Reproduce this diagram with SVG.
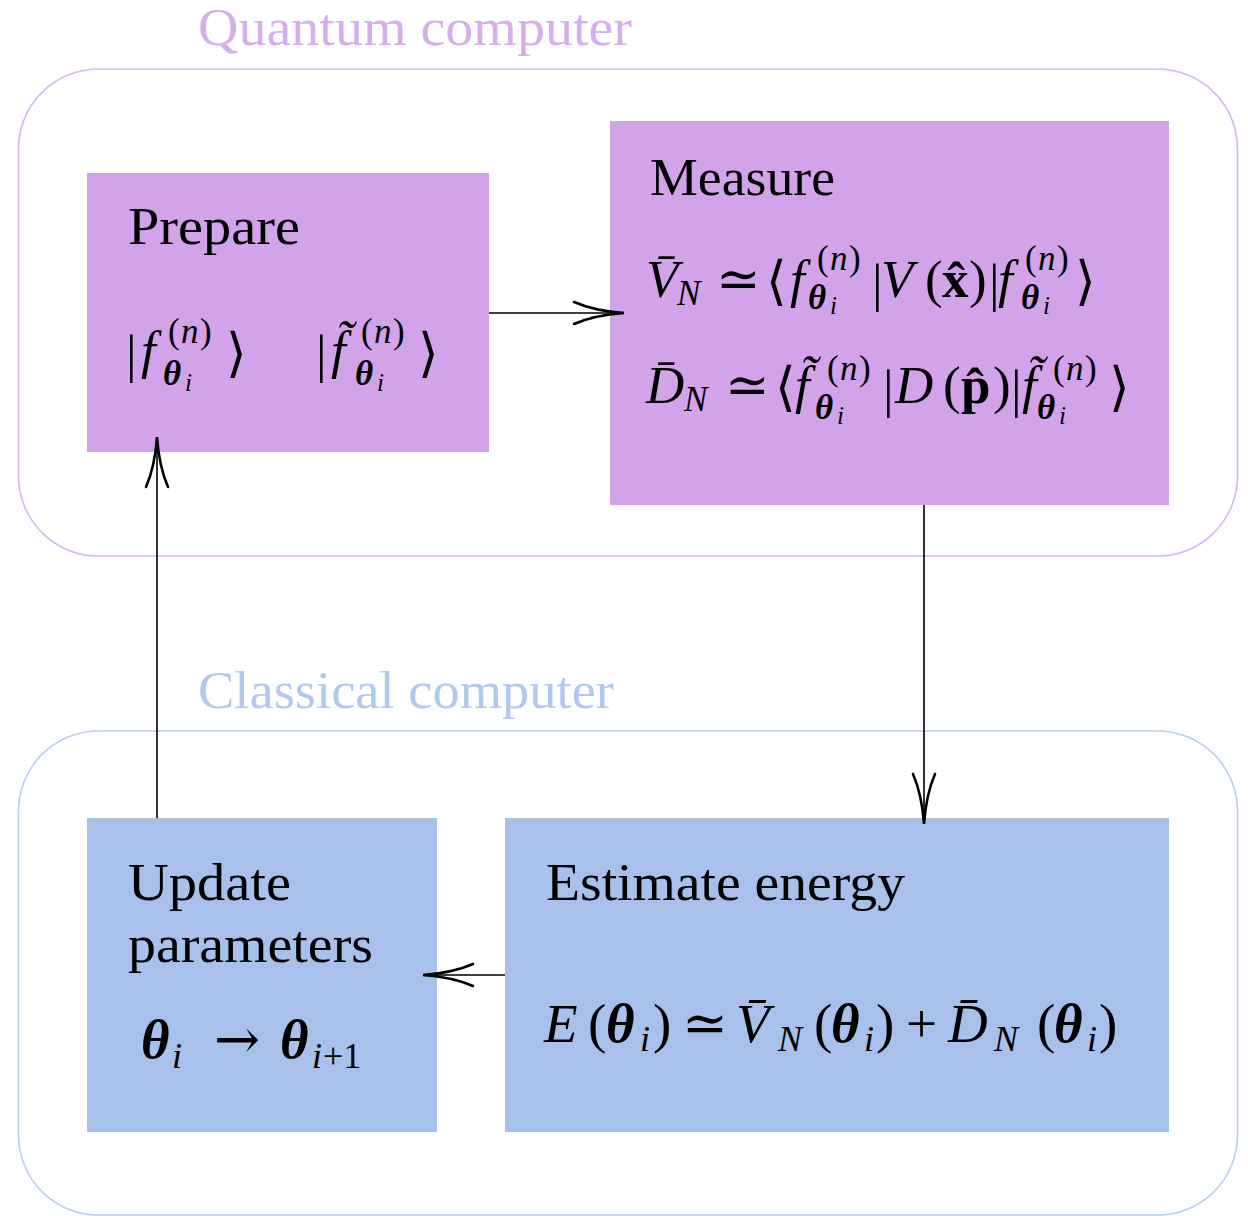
<svg xmlns="http://www.w3.org/2000/svg" width="1248" height="1216" viewBox="0 0 1248 1216">
<style>
.t{font-family:"Liberation Serif","DejaVu Serif",serif;fill:#000}
.lbl{font-size:52px}
.m{font-family:"Liberation Serif","DejaVu Serif",serif;font-size:53px;font-style:italic}
.u{font-style:normal}
.sym{font-family:"DejaVu Serif","Liberation Serif",serif;font-style:normal}
.sup{font-size:35px}
.th{font-style:italic;font-weight:bold}
.ii{font-style:italic;font-size:25px}
.bd{font-weight:bold;font-style:normal}
.conn{stroke:#000;stroke-width:1.6;fill:none}
</style>
<defs>
<marker id="ah" markerUnits="userSpaceOnUse" viewBox="-54 -14 56 28" refX="0" refY="0" markerWidth="56" markerHeight="28" orient="auto" overflow="visible">
<path d="M -50,-11 C -34,-4 -14,-1 0,0 C -14,1 -34,4 -50,11" fill="none" stroke="#000" stroke-width="2.6" stroke-linecap="round"/>
</marker>
</defs>

<g id="quantum-computer">
<rect x="18.5" y="69" width="1219" height="487" rx="80" ry="80" fill="none" stroke="#D9B4F0" stroke-width="1.6"/>
<text class="t lbl" x="198" y="45" style="fill:#D6AEEC" textLength="434" lengthAdjust="spacingAndGlyphs">Quantum computer</text>
</g>

<g id="classical-computer">
<rect x="18.5" y="731" width="1219" height="484" rx="80" ry="80" fill="none" stroke="#B7CEF0" stroke-width="1.6"/>
<text class="t lbl" x="198" y="708" style="fill:#B2C9EF" textLength="416" lengthAdjust="spacingAndGlyphs">Classical computer</text>
</g>

<g id="prepare">
<rect x="87" y="173" width="402" height="279" fill="#D2A3E8"/>
<text class="t lbl" x="128" y="244" textLength="172" lengthAdjust="spacingAndGlyphs">Prepare</text>
<text class="m">
<tspan class="u" x="126" y="372">|</tspan><tspan x="141" y="368">f</tspan><tspan class="u sup" x="168" y="343">(</tspan><tspan class="sup" x="181" y="343">n</tspan><tspan class="u sup" x="200" y="343">)</tspan><tspan class="th sup" x="163" y="385">θ</tspan><tspan class="ii" x="185" y="391">i</tspan><tspan class="u" x="226" y="371">⟩</tspan>
</text>
<text class="m">
<tspan class="u" x="316" y="372">|</tspan><tspan x="331" y="368">f̃</tspan><tspan class="u sup" x="361" y="343">(</tspan><tspan class="sup" x="374" y="343">n</tspan><tspan class="u sup" x="393" y="343">)</tspan><tspan class="th sup" x="355" y="385">θ</tspan><tspan class="ii" x="377" y="391">i</tspan><tspan class="u" x="418" y="371">⟩</tspan>
</text>
</g>

<g id="measure">
<rect x="610" y="121" width="559" height="384" fill="#D2A3E8"/>
<text class="t lbl" x="650" y="195" textLength="185" lengthAdjust="spacingAndGlyphs">Measure</text>
<text class="m">
<tspan x="646" y="297">V̄</tspan><tspan class="sup" x="677" y="305">N</tspan><tspan class="sym" x="716" y="297">≃</tspan><tspan class="u" x="766" y="299">⟨</tspan><tspan x="790" y="297">f</tspan><tspan class="u sup" x="817" y="270">(</tspan><tspan class="sup" x="830" y="270">n</tspan><tspan class="u sup" x="849" y="270">)</tspan><tspan class="th sup" x="808" y="309">θ</tspan><tspan class="ii" x="830" y="314">i</tspan><tspan class="u" x="872" y="301">|</tspan><tspan x="881" y="297">V</tspan><tspan class="u" x="925" y="297">(</tspan><tspan class="u bd" x="942" y="297">x̂</tspan><tspan class="u" x="969" y="297">)</tspan><tspan class="u" x="989" y="301">|</tspan><tspan x="998" y="297">f</tspan><tspan class="u sup" x="1025" y="270">(</tspan><tspan class="sup" x="1038" y="270">n</tspan><tspan class="u sup" x="1057" y="270">)</tspan><tspan class="th sup" x="1021" y="309">θ</tspan><tspan class="ii" x="1043" y="314">i</tspan><tspan class="u" x="1075" y="299">⟩</tspan>
</text>
<text class="m">
<tspan x="646" y="403">D̄</tspan><tspan class="sup" x="684" y="411">N</tspan><tspan class="sym" x="725" y="403">≃</tspan><tspan class="u" x="775" y="405">⟨</tspan><tspan x="795" y="403">f̃</tspan><tspan class="u sup" x="827" y="380">(</tspan><tspan class="sup" x="840" y="380">n</tspan><tspan class="u sup" x="859" y="380">)</tspan><tspan class="th sup" x="815" y="419">θ</tspan><tspan class="ii" x="837" y="424">i</tspan><tspan class="u" x="883" y="407">|</tspan><tspan x="895" y="403">D</tspan><tspan class="u" x="943" y="403">(</tspan><tspan class="u bd" x="961" y="403">p̂</tspan><tspan class="u" x="993" y="403">)</tspan><tspan class="u" x="1011" y="407">|</tspan><tspan x="1022" y="403">f̃</tspan><tspan class="u sup" x="1053" y="380">(</tspan><tspan class="sup" x="1066" y="380">n</tspan><tspan class="u sup" x="1085" y="380">)</tspan><tspan class="th sup" x="1037" y="419">θ</tspan><tspan class="ii" x="1059" y="424">i</tspan><tspan class="u" x="1109" y="405">⟩</tspan>
</text>
</g>

<g id="update-parameters">
<rect x="87" y="818" width="350" height="314" fill="#A7C1EA"/>
<text class="t lbl" x="128" y="900" textLength="163" lengthAdjust="spacingAndGlyphs">Update</text>
<text class="t lbl" x="128" y="962" textLength="245" lengthAdjust="spacingAndGlyphs">parameters</text>
<text class="m" style="font-size:55px">
<tspan class="th" x="141" y="1058">θ</tspan><tspan style="font-size:36px" x="172" y="1068">i</tspan><tspan class="sym" x="214" y="1058">→</tspan><tspan class="th" x="280" y="1058">θ</tspan><tspan style="font-size:36px" x="312" y="1068">i</tspan><tspan class="u" style="font-size:36px" x="323" y="1068">+1</tspan>
</text>
</g>

<g id="estimate-energy">
<rect x="505" y="818" width="664" height="314" fill="#A7C1EA"/>
<text class="t lbl" x="546" y="900" textLength="359" lengthAdjust="spacingAndGlyphs">Estimate energy</text>
<text class="m" style="font-size:55px">
<tspan x="544" y="1042">E</tspan><tspan class="u" x="588" y="1042">(</tspan><tspan class="th" x="606" y="1042">θ</tspan><tspan style="font-size:36px" x="640" y="1051">i</tspan><tspan class="u" x="653" y="1042">)</tspan><tspan class="sym" x="682" y="1042">≃</tspan><tspan x="736" y="1042">V̄</tspan><tspan style="font-size:36px" x="778" y="1051">N</tspan><tspan class="u" x="814" y="1042">(</tspan><tspan class="th" x="831" y="1042">θ</tspan><tspan style="font-size:36px" x="864" y="1051">i</tspan><tspan class="u" x="876" y="1042">)</tspan><tspan class="u" x="906" y="1042">+</tspan><tspan x="948" y="1042">D̄</tspan><tspan style="font-size:36px" x="994" y="1051">N</tspan><tspan class="u" x="1037" y="1042">(</tspan><tspan class="th" x="1054" y="1042">θ</tspan><tspan style="font-size:36px" x="1087" y="1051">i</tspan><tspan class="u" x="1099" y="1042">)</tspan>
</text>
</g>

<g id="connectors">
<line class="conn" x1="489" y1="313" x2="624" y2="313" marker-end="url(#ah)"/>
<line class="conn" x1="924" y1="505" x2="924" y2="824" marker-end="url(#ah)"/>
<line class="conn" x1="505" y1="975" x2="423" y2="975" marker-end="url(#ah)"/>
<line class="conn" x1="157" y1="818" x2="157" y2="437" marker-end="url(#ah)"/>
</g>
</svg>
